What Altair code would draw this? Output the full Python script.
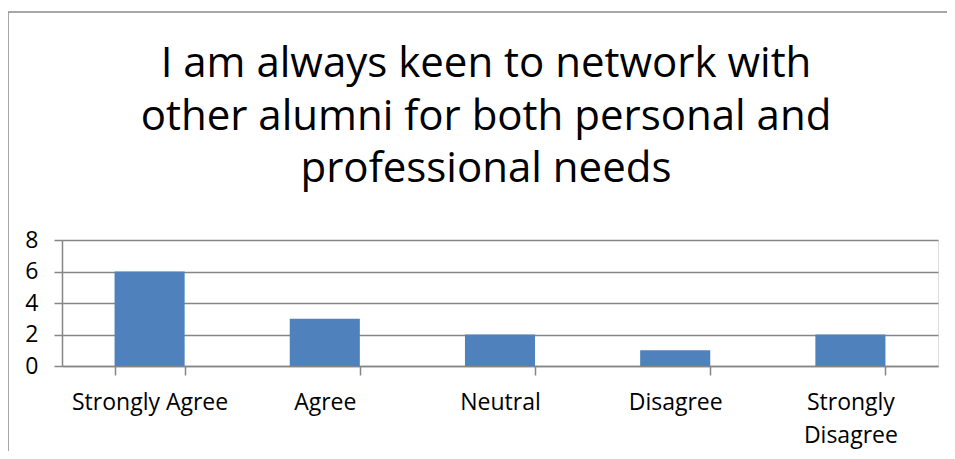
import altair as alt
import pandas as pd

categories = ["Strongly Agree", "Agree", "Neutral", "Disagree", "Strongly Disagree"]
counts = [6, 3, 2, 1, 2]
y_ticks = [0, 2, 4, 6, 8]
title_lines = [
    "I am always keen to network with",
    "other alumni for both personal and",
    "professional needs",
]

FONT = "Open Sans"
GRAY = "#868686"

df = pd.DataFrame({"category": categories, "count": counts})

bars = alt.Chart(df).mark_bar(color="#4F81BD").encode(
    x=alt.X(
        "category:N",
        sort=categories,
        title=None,
        scale=alt.Scale(paddingInner=0.6, paddingOuter=0.3),
        axis=alt.Axis(
            labelAngle=0,
            labelFont=FONT,
            labelFontSize=23,
            labelColor="#000000",
            labelPadding=16,
            labelLineHeight=33,
            labelExpr="datum.value == 'Strongly Disagree' ? ['Strongly', 'Disagree'] : datum.value",
            tickBand="extent",
            tickSize=9,
            tickColor=GRAY,
            tickWidth=1.5,
            domainColor=GRAY,
            domainWidth=1.5,
            grid=False,
        ),
    ),
    y=alt.Y(
        "count:Q",
        title=None,
        scale=alt.Scale(domain=[0, 8], nice=False),
        axis=alt.Axis(
            values=y_ticks,
            labelFont=FONT,
            labelFontSize=23,
            labelColor="#000000",
            labelPadding=16,
            tickSize=8,
            tickColor=GRAY,
            tickWidth=1.5,
            domainColor=GRAY,
            domainWidth=1.5,
            gridColor=GRAY,
            gridWidth=1.5,
        ),
    ),
)

frame_data = alt.Data(values=[{"k": 1}])
left_border = alt.Chart(frame_data).mark_rule(color="#8a8a8a", strokeWidth=1.5).encode(
    x=alt.value(-54), y=alt.value(-228), y2=alt.value(215)
)
top_border = alt.Chart(frame_data).mark_rule(color="#8a8a8a", strokeWidth=1.5).encode(
    x=alt.value(-54), x2=alt.value(890), y=alt.value(-228)
)
title = alt.Chart(frame_data).mark_text(
    font=FONT,
    fontSize=42,
    color="#000000",
    align="center",
    baseline="alphabetic",
    lineHeight=52.5,
).encode(
    x=alt.value(424),
    y=alt.value(-163),
    text=alt.value(title_lines),
)

chart = alt.layer(bars, left_border, top_border, title).properties(
    width=876,
    height=126,
    padding={"left": 54, "top": 232, "right": 9, "bottom": 85},
    autosize=alt.AutoSizeParams(type="none"),
).configure_view(stroke=None).configure(background="white")

chart.save("out.html", embed_options={"renderer": "svg", "actions": False})
